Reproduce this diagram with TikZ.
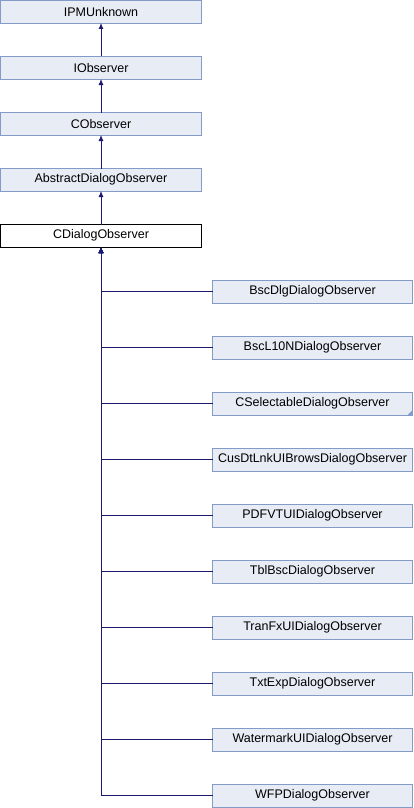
\documentclass[tikz,border=0pt]{standalone}
\usepackage{fontspec}
\setmainfont{Liberation Sans}
\usetikzlibrary{arrows.meta, positioning}
\definecolor{dxfill}{RGB}{232,236,245}
\definecolor{dxdraw}{RGB}{132,155,202}
\definecolor{dxline}{RGB}{25,25,112}

\begin{document}
\begin{tikzpicture}[x=1pt,y=1pt,
  cls/.style={draw=dxdraw,fill=dxfill,line width=0.9pt,outer sep=0pt,minimum width=201pt,minimum height=22.5pt,inner sep=0pt,font=\fontsize{12.5}{15}\selectfont},
  sub/.style={cls,minimum width=200pt},
  cur/.style={cls,draw=black,fill=white},
  inh/.style={dxline,line width=0.9pt,-{Latex[length=6pt,width=5pt]}}
]
\useasboundingbox (0,0) rectangle (414,-808);

% Base chain
\node[cls,anchor=north west] at (0.5,-0.5) (ipm) {IPMUnknown};
\node[cls,below=33.5pt of ipm] (iobs) {IObserver};
\node[cls,below=33.5pt of iobs] (cobs) {CObserver};
\node[cls,below=33.5pt of cobs] (absdlg) {AbstractDialogObserver};
\node[cur,below=33.5pt of absdlg] (cdlg) {CDialogObserver};

% Derived classes
\node[sub,anchor=north west] at (212.5,-280.5) (bscdlg) {BscDlgDialogObserver};
\node[sub,below=33.5pt of bscdlg] (bscl10n) {BscL10NDialogObserver};
\node[sub,below=33.5pt of bscl10n] (csel) {CSelectableDialogObserver};
\node[sub,below=33.5pt of csel] (cusdt) {CusDtLnkUIBrowsDialogObserver};
\node[sub,below=33.5pt of cusdt] (pdfvt) {PDFVTUIDialogObserver};
\node[sub,below=33.5pt of pdfvt] (tblbsc) {TblBscDialogObserver};
\node[sub,below=33.5pt of tblbsc] (tranfx) {TranFxUIDialogObserver};
\node[sub,below=33.5pt of tranfx] (txtexp) {TxtExpDialogObserver};
\node[sub,below=33.5pt of txtexp] (wmark) {WatermarkUIDialogObserver};
\node[sub,below=33.5pt of wmark] (wfp) {WFPDialogObserver};
\fill[dxdraw] (csel.south east) -- ++(-5,0) -- ++(5,5) -- cycle;

% Inheritance
\draw[inh] (iobs) -- (ipm);
\draw[inh] (cobs) -- (iobs);
\draw[inh] (absdlg) -- (cobs);
\draw[inh] (cdlg) -- (absdlg);
\draw[inh] (bscdlg.west) -| (cdlg.south);
\draw[inh] (bscl10n.west) -| (cdlg.south);
\draw[inh] (csel.west) -| (cdlg.south);
\draw[inh] (cusdt.west) -| (cdlg.south);
\draw[inh] (pdfvt.west) -| (cdlg.south);
\draw[inh] (tblbsc.west) -| (cdlg.south);
\draw[inh] (tranfx.west) -| (cdlg.south);
\draw[inh] (txtexp.west) -| (cdlg.south);
\draw[inh] (wmark.west) -| (cdlg.south);
\draw[inh] (wfp.west) -| (cdlg.south);
\end{tikzpicture}
\end{document}
